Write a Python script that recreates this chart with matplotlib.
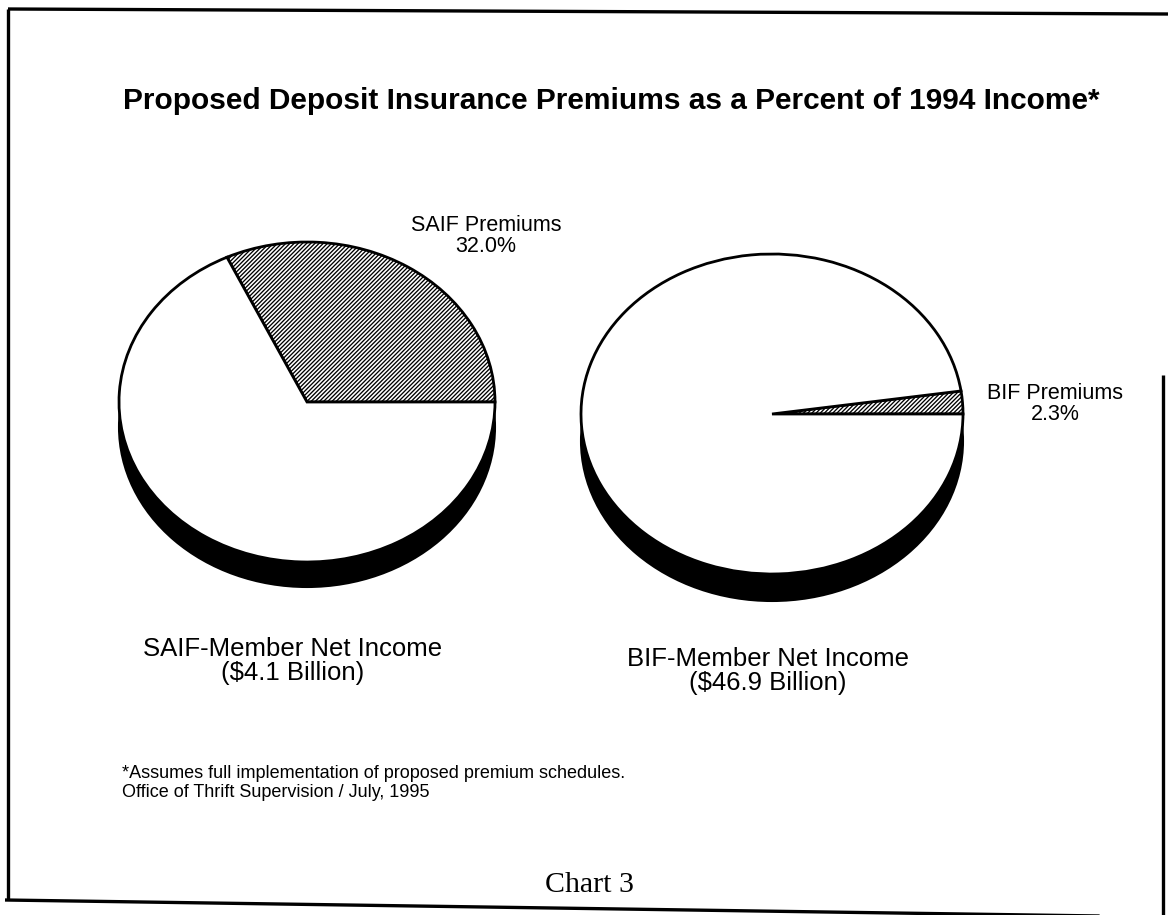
"""
Chart 3: primas de seguro de depósito propuestas como % del ingreso neto 1994.
Dos "pies" con sombra (SAIF vs BIF), estilo recorte escaneado.
"""

import matplotlib
matplotlib.use("Agg")
import matplotlib.pyplot as plt
from matplotlib.patches import Ellipse

# ---------------------------------------------------------------------------
# Datos
# ---------------------------------------------------------------------------

funds = ["SAIF", "BIF"]
premium_pct = [32.0, 2.3]
net_income_bn = [4.1, 46.9]
premium_labels = ["SAIF Premiums", "BIF Premiums"]
income_labels = ["SAIF-Member Net Income", "BIF-Member Net Income"]

title = "Proposed Deposit Insurance Premiums as a Percent of 1994 Income*"
footnote = ("*Assumes full implementation of proposed premium schedules.\n"
            "Office of Thrift Supervision / July, 1995")
chart_label = "Chart 3"

# ---------------------------------------------------------------------------
# Layout (pixeles de la imagen de referencia)
# ---------------------------------------------------------------------------

W, H = 1168, 915
FONT = "Liberation Sans"

# centro x, centro y, radio x, radio y, profundidad de la sombra
pie_geom = [
    (307, 402, 188, 160, 25),
    (772, 414, 191, 160, 27),
]
premium_label_xy = [(486, 236), (1055, 404)]
income_label_xy = [(293, 661), (768, 671)]

plt.rcParams["hatch.linewidth"] = 0.95

fig = plt.figure(figsize=(W / 100, H / 100), dpi=100)
fig.patch.set_facecolor("white")

# capa de fondo en coordenadas de pixel para textos y marco
bg = fig.add_axes([0, 0, 1, 1])
bg.set_xlim(0, W)
bg.set_ylim(H, 0)
bg.axis("off")


def draw_pie(geom, pct):
    cx, cy, rx, ry, depth = geom
    pad = 6  # margen en pixeles para no recortar bordes
    ax = fig.add_axes([(cx - rx - pad) / W, (H - (cy + ry + depth + pad)) / H,
                       (2 * rx + 2 * pad) / W, (2 * ry + depth + 2 * pad) / H])
    wedges, _ = ax.pie(
        [pct, 100 - pct], startangle=0, counterclock=True,
        colors=["white", "white"], radius=1,
        wedgeprops=dict(edgecolor="black", linewidth=2.0),
    )
    wedges[0].set_hatch("////////")
    for w in wedges:
        w.set_zorder(2)
    # sombra: misma elipse desplazada hacia abajo
    ax.add_patch(Ellipse((0, -depth / ry), 2, 2, facecolor="black",
                         edgecolor="black", linewidth=1.5, zorder=1))
    ax.set_aspect("auto")
    ax.set_xlim(-1 - pad / rx, 1 + pad / rx)
    ax.set_ylim(-1 - (depth + pad) / ry, 1 + pad / ry)
    ax.axis("off")


for i, fund in enumerate(funds):
    draw_pie(pie_geom[i], premium_pct[i])
    px, py = premium_label_xy[i]
    bg.text(px, py, f"{premium_labels[i]}\n{premium_pct[i]:.1f}%",
            ha="center", va="center", fontsize=15.5, family=FONT,
            linespacing=0.95)
    ix, iy = income_label_xy[i]
    bg.text(ix, iy, f"{income_labels[i]}\n(${net_income_bn[i]:.1f} Billion)",
            ha="center", va="center", fontsize=18.5, family=FONT,
            linespacing=1.0)

bg.text(611, 101, title, ha="center", va="center", fontsize=21.5,
        fontweight="bold", family=FONT)
bg.text(122, 783, footnote, ha="left", va="center", fontsize=13,
        family=FONT, linespacing=1.1)
bg.text(589, 885, chart_label, ha="center", va="center", fontsize=21.5,
        family="Liberation Serif")

# marco del recorte (ligeramente torcido como en el escaneo)
frame_kw = dict(color="black", linewidth=2.4, solid_capstyle="butt")
bg.plot([8, 1168], [9, 14], **frame_kw)
bg.plot([8, 8], [9, 900], **frame_kw)
bg.plot([5, 1168], [900, 917], **frame_kw)
bg.plot([1163, 1163], [375, 915], **frame_kw)

fig.savefig("out.png", dpi=100, facecolor="white")
